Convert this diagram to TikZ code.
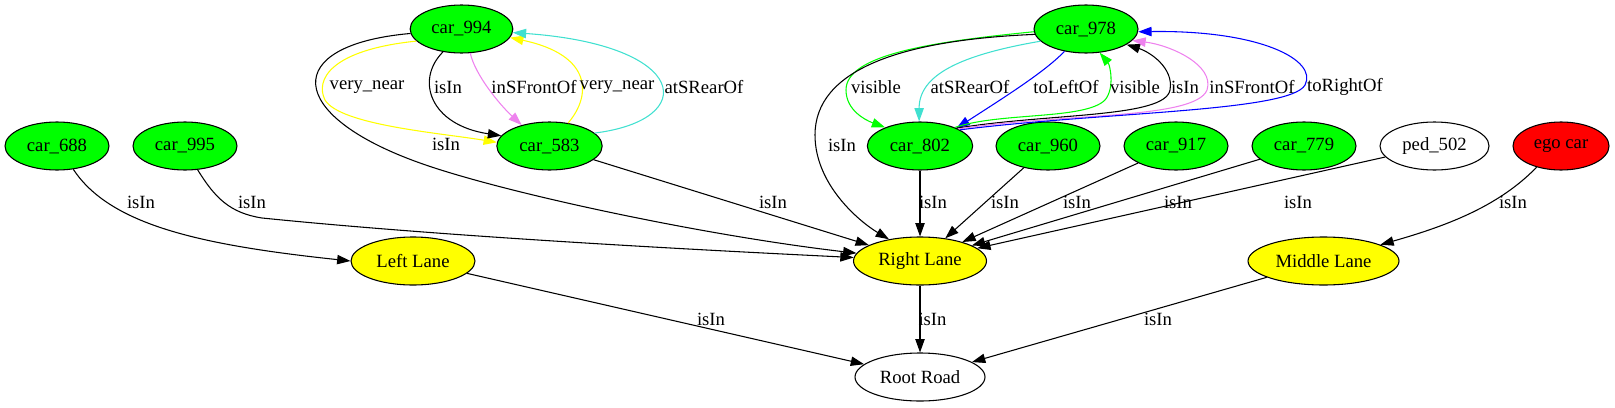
\documentclass[tikz,border=0pt]{standalone}
\usepackage{fontspec}
\setmainfont{Liberation Serif}
\usetikzlibrary{shapes.geometric,arrows.meta}
\definecolor{gvgreen}{HTML}{00FF00}
\definecolor{gvyellow}{HTML}{FFFF00}
\definecolor{gvred}{HTML}{FF0000}
\definecolor{gvturq}{HTML}{40E0D0}
\definecolor{gvviolet}{HTML}{EE82EE}
\definecolor{gvblue}{HTML}{0000FF}
\begin{document}
\begin{tikzpicture}[x=0.75pt,y=-0.75pt,
  nd/.style={ellipse,draw=black,line width=0.8pt,inner sep=0pt,minimum height=36pt,font=\fontsize{14pt}{16pt}\selectfont},
  car/.style={nd,fill=gvgreen,minimum width=78pt},
  lane/.style={nd,fill=gvyellow},
  lbl/.style={font=\fontsize{14pt}{16pt}\selectfont,inner sep=0pt},
  arr/.style={line width=0.8pt,-{Triangle[length=10pt,width=7pt]}},
]
\useasboundingbox (0,0) rectangle (1615,407);
% nodes
\node[car,minimum width=77pt] (c994) at (461.5,29) {car\_994};
\node[car] (c978) at (1086,29) {car\_978};
\node[car] (c688) at (57,146) {car\_688};
\node[car] (c995) at (185,146) {car\_995};
\node[car,minimum width=79pt] (c583) at (549.5,146) {car\_583};
\node[car,minimum width=79pt] (c802) at (920,146) {car\_802};
\node[car] (c960) at (1048,146) {car\_960};
\node[car] (c917) at (1176,146) {car\_917};
\node[car] (c779) at (1304,146) {car\_779};
\node[nd,fill=white,minimum width=81.75pt] (p502) at (1434.5,146) {ped\_502};
\node[nd,fill=gvred,minimum width=72pt] (ego) at (1561,146) {ego car};
\node[lane,minimum width=93pt] (LL) at (413,261) {Left Lane};
\node[lane,minimum width=99.75pt] (RL) at (920,261) {Right Lane};
\node[lane,minimum width=113.25pt] (ML) at (1323.5,261) {Middle Lane};
\node[nd,fill=white,minimum width=97.5pt] (RR) at (920,377) {Root Road};

% car_994 / car_583 group
\draw[arr,color=gvyellow] (c994.195) .. controls (330,50) and (315,80) .. (325,100) .. controls (340,125) and (440,133) .. (c583.176);
\draw[arr] (c994.231) .. controls (415,80) and (430,125) .. (c583.168);
\draw[arr,color=gvviolet] (c994.290) .. controls (475,75) and (500,105) .. (c583.143);
\draw[arr,color=gvyellow] (c583.51) .. controls (592,95) and (592,55) .. (c994.350);
\draw[arr,color=gvturq] (c583.16) .. controls (700,120) and (690,45) .. (c994.356);
\draw[arr] (c994.185) .. controls (280,45) and (285,115) .. (420,163) .. controls (501,192) and (700,235) .. (RL.173);

% car_978 / car_802 group
\draw[arr,color=gvgreen] (c978.183) .. controls (930,42) and (846,55) .. (846,90) .. controls (846,110) and (865,120) .. (c802.152);
\draw[arr,color=gvturq] (c978.195) .. controls (960,55) and (919,75) .. (c802.92);
\draw[arr,color=gvblue] (c978.226) .. controls (1045,72) and (1000,100) .. (c802.26);
\draw[arr] (c978.186) .. controls (900,40) and (815,70) .. (815,135) .. controls (815,185) and (860,222) .. (RL.145);
\draw[arr,color=gvgreen] (c802.28) .. controls (1000,112) and (1085,120) .. (1105,100) .. controls (1115,88) and (1110,65) .. (c978.300);
\draw[arr] (c802.26) .. controls (1050,113) and (1165,118) .. (1170,90) .. controls (1174,68) and (1150,52) .. (c978.339);
\draw[arr,color=gvviolet] (c802.24) .. controls (1060,113) and (1195,120) .. (1207,90) .. controls (1215,65) and (1170,45) .. (c978.346);
\draw[arr,color=gvblue] (c802.22) .. controls (1100,112) and (1290,112) .. (1305,85) .. controls (1318,60) and (1260,30) .. (c978.357);

% to lanes
\draw[arr] (c688.305) .. controls (110,225) and (200,245) .. (LL.180);
\draw[arr] (c995.298) .. controls (215,198) and (230,213) .. (262,218) .. controls (450,237) and (700,250) .. (RL.177);
\draw[arr] (c583) -- (RL);
\draw[arr] (c802) -- (RL);
\draw[arr] (c960) -- (RL);
\draw[arr] (c917) -- (RL);
\draw[arr] (c779) -- (RL);
\draw[arr] (p502) -- (RL);
\draw[arr] (ego.221) .. controls (1500,205) and (1450,225) .. (ML.16);
\draw[arr] (LL) -- (RR);
\draw[arr] (RL) -- (RR);
\draw[arr] (ML) -- (RR);

% labels
\node[lbl] (t1) at (367,87) {very\_near};
\node[lbl] (t2) at (448,87) {isIn};
\node[lbl] (t3) at (534,87) {inSFrontOf};
\node[lbl] (t4) at (617,87) {very\_near};
\node[lbl] (t5) at (704,87) {atSRearOf};
\node[lbl] (t6) at (446,144) {isIn};
\node[lbl] (t7) at (876,87) {visible};
\node[lbl] (t8) at (970,87) {atSRearOf};
\node[lbl] (t9) at (1066,87) {toLeftOf};
\node[lbl] (t10) at (1135,87) {visible};
\node[lbl] (t11) at (1185,87) {isIn};
\node[lbl] (t12) at (1252,87) {inSFrontOf};
\node[lbl] (t13) at (1345,87) {toRightOf};
\node[lbl] (t14) at (842,145) {isIn};
\node[lbl] (t15) at (141,202) {isIn};
\node[lbl] (t16) at (252,202) {isIn};
\node[lbl] (t17) at (773,202) {isIn};
\node[lbl] (t18) at (933,202) {isIn};
\node[lbl] (t19) at (1005,202) {isIn};
\node[lbl] (t20) at (1077,202) {isIn};
\node[lbl] (t21) at (1178,202) {isIn};
\node[lbl] (t22) at (1298,202) {isIn};
\node[lbl] (t23) at (1513,202) {isIn};
\node[lbl] (t24) at (711,319) {isIn};
\node[lbl] (t25) at (932.5,319) {isIn};
\node[lbl] (t26) at (1158,319) {isIn};
\end{tikzpicture}
\end{document}
